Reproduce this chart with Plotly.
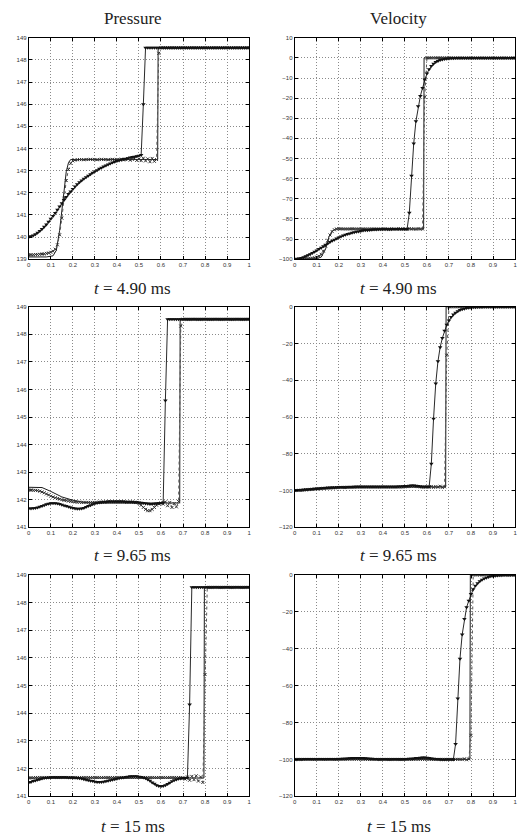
import plotly.graph_objects as go

# ---------------- grid positions (x in [0,1], step 0.01) ----------------
X = [round(i * 0.01, 2) for i in range(101)]

# ---------------- Pressure, t = 4.90 ms ----------------
P1_TRI = ([140.00, 140.03, 140.07, 140.12, 140.19, 140.27, 140.36, 140.46, 140.57, 140.69,
           140.82, 140.95, 141.09, 141.23, 141.38, 141.53, 141.67, 141.81, 141.94, 142.06,
           142.17, 142.28, 142.38, 142.47, 142.55, 142.63, 142.70, 142.77, 142.84, 142.90,
           142.96, 143.02, 143.08, 143.13, 143.18, 143.23, 143.28, 143.32, 143.36, 143.40,
           143.43, 143.46, 143.49, 143.52, 143.54, 143.56, 143.59, 143.61, 143.63, 143.65,
           143.67, 143.70, 146.00] + [148.55] * 48)
P1_CRS = ([139.20, 139.20, 139.20, 139.21, 139.21, 139.22, 139.23, 139.24, 139.26, 139.28,
           139.31, 139.36, 139.45, 139.65, 140.10, 140.85, 141.75, 142.55, 143.05, 143.33,
           143.44, 143.48, 143.49, 143.50, 143.50, 143.49, 143.50, 143.50, 143.51, 143.50,
           143.50, 143.49, 143.50, 143.51, 143.50, 143.50, 143.49, 143.50, 143.51, 143.50,
           143.49, 143.50, 143.52, 143.48, 143.50, 143.53, 143.47, 143.51, 143.54, 143.46,
           143.52, 143.45, 143.56, 143.44, 143.53, 143.40, 143.55, 143.42, 143.50,
           148.30] + [148.55] * 41)
P1_REF_X = [0, 0.08, 0.11, 0.125, 0.14, 0.15, 0.16, 0.17, 0.18, 0.19, 0.585, 0.587, 1]
P1_REF_Y = [139.10, 139.10, 139.15, 139.40, 140.30, 141.20, 142.20, 142.95, 143.35, 143.50,
            143.50, 148.55, 148.55]

# ---------------- Velocity, t = 4.90 ms ----------------
P2_TRI = ([-100.0, -99.9, -99.7, -99.4, -99.0, -98.5, -98.0, -97.5, -96.9, -96.3,
           -95.7, -95.0, -94.3, -93.6, -92.9, -92.2, -91.5, -90.9, -90.3, -89.7,
           -89.2, -88.7, -88.3, -87.9, -87.5, -87.2, -86.9, -86.6, -86.4, -86.2,
           -86.0, -85.8, -85.7, -85.6, -85.5, -85.4, -85.3, -85.3, -85.2, -85.2]
          + [-85.1] * 5 + [-85.0] * 5
          + [-85.0, -85.0, -77.0, -58.5, -42.5, -31.5, -24.0, -19.0, -15.0, -10.8,
             -7.8, -5.6, -4.0, -2.9, -2.1, -1.5, -1.1, -0.8, -0.55, -0.4,
             -0.28, -0.2, -0.14, -0.1, -0.07, -0.05, -0.03, -0.02, -0.01, 0.0]
          + [0.0] * 21)
P2_CRS = ([-100.0, -100.0, -99.9, -99.9, -99.8, -99.8, -99.7, -99.6, -99.5, -99.3,
           -99.0, -98.5, -97.6, -96.0, -93.5, -90.6, -88.0, -86.3, -85.4, -85.0,
           -84.9, -84.9, -85.0, -85.0, -85.0, -85.0, -84.9, -85.0, -85.0, -85.0]
          + [-85.0] * 10
          + [-85.0, -84.9, -85.0, -85.1, -84.9, -85.0, -85.1, -84.8, -85.1, -84.9,
             -85.0, -85.2, -84.8, -85.1, -84.9, -85.2, -84.8, -85.1, -85.0,
             -19.5] + [0.0] * 41)
P2_REF_X = [0, 0.1, 0.12, 0.14, 0.155, 0.17, 0.185, 0.585, 0.587, 1]
P2_REF_Y = [-100, -99.7, -99, -95, -89, -86, -85, -85, 0, 0]

# ---------------- Pressure, t = 9.65 ms ----------------
P3_TRI = ([141.68, 141.68, 141.69, 141.70, 141.72, 141.74, 141.77, 141.80, 141.83, 141.85,
           141.87, 141.87, 141.87, 141.86, 141.84, 141.82, 141.79, 141.77, 141.74, 141.72,
           141.70, 141.68, 141.67, 141.67, 141.68, 141.70, 141.73, 141.77, 141.80, 141.83,
           141.86, 141.88, 141.90, 141.91, 141.92, 141.92, 141.93, 141.93, 141.93, 141.93,
           141.93, 141.93, 141.93, 141.93, 141.92, 141.92, 141.92, 141.92, 141.91, 141.91,
           141.90, 141.89, 141.88, 141.86, 141.85, 141.84, 141.84, 141.85, 141.86, 141.87,
           141.88, 141.90, 145.60] + [148.55] * 38)
P3_CRS = ([142.35, 142.35, 142.34, 142.34, 142.33, 142.31, 142.28, 142.25, 142.21, 142.17,
           142.13, 142.10, 142.07, 142.04, 142.02, 142.00, 141.98, 141.97, 141.95, 141.94,
           141.93, 141.92, 141.91, 141.91, 141.90, 141.90, 141.90, 141.90, 141.90, 141.90,
           141.90, 141.90, 141.91, 141.91, 141.92, 141.92, 141.92, 141.92, 141.92, 141.92]
          + [141.92] * 8 + [141.91, 141.90]
          + [141.86, 141.80, 141.72, 141.65, 141.60, 141.60, 141.65, 141.72, 141.80, 141.85,
             141.88, 141.84, 141.92, 141.78, 141.90, 141.72, 141.86, 141.74, 141.93,
             148.30] + [148.55] * 31)
P3_REF_X = [0, 0.06, 0.1, 0.15, 0.2, 0.25, 0.3, 0.685, 0.687, 1]
P3_REF_Y = [142.45, 142.44, 142.30, 142.10, 141.98, 141.90, 141.88, 141.88, 148.55, 148.55]

# ---------------- Velocity, t = 9.65 ms ----------------
P4_TRI = ([-100.0, -99.9, -99.8, -99.7, -99.6, -99.5, -99.4, -99.3, -99.2, -99.1,
           -99.0, -98.9, -98.8, -98.7, -98.6, -98.5, -98.5, -98.4, -98.4, -98.3,
           -98.3, -98.2, -98.2, -98.2, -98.1, -98.1, -98.1, -98.0, -98.0, -98.0]
          + [-98.0] * 10 + [-98.0] * 5
          + [-97.9, -97.9, -97.8, -97.8, -97.7,
             -97.6, -97.5, -97.4, -97.3, -97.3, -97.4, -97.6, -97.8, -97.9, -98.0,
             -98.0, -98.0,
             -85.4, -61.0, -41.7, -29.7, -22.0, -17.0, -13.0, -9.8,
             -7.4, -5.6, -4.2, -3.2, -2.4, -1.8, -1.3, -1.0, -0.7, -0.5,
             -0.35, -0.25, -0.18, -0.12, -0.08, -0.05, -0.03, -0.02, -0.01, 0.0]
          + [0.0] * 11)
P4_CRS = ([-100.0, -100.0, -99.9, -99.8, -99.7, -99.6, -99.5, -99.4, -99.3, -99.2,
           -99.1, -99.0, -98.9, -98.8, -98.7, -98.6, -98.6, -98.5, -98.5, -98.4,
           -98.4, -98.3, -98.3, -98.3, -98.2, -98.2, -98.2, -98.2, -98.1, -98.1]
          + [-98.1] * 20
          + [-98.0, -97.9, -97.8, -97.7, -97.7, -97.8, -97.9, -98.0, -98.1, -98.1,
             -98.0, -98.2, -97.8, -98.3, -97.9, -98.2, -97.7, -98.3, -98.0,
             -26.4] + [0.0] * 31)
P4_REF_X = [0, 0.1, 0.2, 0.3, 0.685, 0.687, 1]
P4_REF_Y = [-100, -99, -98.3, -98.1, -98.1, 0, 0]

# ---------------- Pressure, t = 15 ms ----------------
P5_TRI = ([141.50, 141.52, 141.55, 141.57, 141.60, 141.62, 141.64, 141.66, 141.67, 141.68,
           141.68, 141.69, 141.69, 141.69, 141.69, 141.69, 141.69, 141.69, 141.68, 141.68,
           141.67, 141.67, 141.66, 141.65, 141.64, 141.62, 141.60, 141.58, 141.56, 141.55,
           141.53, 141.52, 141.52, 141.52, 141.53, 141.54, 141.56, 141.58, 141.60, 141.62,
           141.63, 141.65, 141.67, 141.68, 141.70, 141.71, 141.72, 141.72, 141.72, 141.72,
           141.71, 141.70, 141.68, 141.65, 141.61, 141.56, 141.50, 141.45, 141.40, 141.37,
           141.36, 141.37, 141.40, 141.44, 141.49, 141.54, 141.58, 141.61, 141.63, 141.64,
           141.65, 141.66, 141.67, 144.32] + [148.55] * 27)
P5_CRS = ([141.66, 141.67, 141.67, 141.68, 141.68, 141.68, 141.68, 141.68, 141.68, 141.68]
          + [141.68] * 60
          + [141.66, 141.62, 141.70, 141.58, 141.72, 141.60, 141.74, 141.55, 141.70, 141.50,
             145.40] + [148.55] * 20)
P5_REF_X = [0, 0.795, 0.797, 1]
P5_REF_Y = [141.66, 141.66, 148.55, 148.55]

# ---------------- Velocity, t = 15 ms ----------------
P6_TRI = ([-100.0, -100.0, -99.9, -99.9, -99.8, -99.8, -99.8, -99.8, -99.8, -99.8]
          + [-99.8] * 10
          + [-99.8, -99.8, -99.7, -99.6, -99.5, -99.4, -99.3, -99.3, -99.2, -99.2,
             -99.2, -99.3, -99.4, -99.5, -99.6, -99.7, -99.8, -99.8, -99.9, -99.9]
          + [-99.9] * 10
          + [-99.9, -99.8, -99.7, -99.6, -99.5, -99.3, -99.2, -99.1, -99.0, -99.0,
             -99.1, -99.3, -99.5, -99.7, -99.8, -99.9, -100.0, -100.0, -100.0, -100.0,
             -100.0, -100.0, -100.0,
             -91.6, -67.0, -45.4, -32.3, -23.9, -17.6, -14.0, -10.4,
             -7.8, -5.9, -4.5, -3.4, -2.6, -2.0, -1.5, -1.1, -0.8,
             -0.6, -0.45, -0.33, -0.24, -0.17, -0.12, -0.08, -0.05, -0.03, -0.01, 0.0])
P6_CRS = ([-100.0] * 20 + [-99.9] * 10 + [-100.0] * 46
          + [-100.0, -99.7, -100.2, -99.8,
             -87.0] + [0.0] * 20)
P6_REF_X = [0, 0.795, 0.797, 1]
P6_REF_Y = [-100, -100, 0, 0]

# ---------------- axes settings ----------------
Y_RANGES = [[139, 149], [-100, 10], [141, 149], [-120, 0], [141, 149], [-120, 0]]
Y_DTICK = [1, 10, 1, 20, 1, 20]
COL_TITLES = ["Pressure", "Velocity"]
ROW_LABELS = ["<i>t</i> = 4.90 ms", "<i>t</i> = 9.65 ms", "<i>t</i> = 15 ms"]

PANELS = [
    (P1_REF_X, P1_REF_Y, P1_TRI, P1_CRS),
    (P2_REF_X, P2_REF_Y, P2_TRI, P2_CRS),
    (P3_REF_X, P3_REF_Y, P3_TRI, P3_CRS),
    (P4_REF_X, P4_REF_Y, P4_TRI, P4_CRS),
    (P5_REF_X, P5_REF_Y, P5_TRI, P5_CRS),
    (P6_REF_X, P6_REF_Y, P6_TRI, P6_CRS),
]

W, H = 525, 840
COL_PX = [(27, 249), (295, 517)]
ROW_PX = [(35, 258), (306, 528), (576, 799)]

fig = go.Figure()
layout = dict(width=W, height=H, margin=dict(l=0, r=0, t=0, b=0),
              paper_bgcolor="white", plot_bgcolor="white", showlegend=False)

tick_font = dict(family="Liberation Sans, Arial, sans-serif", size=6, color="#333")

for i, (rx, ry, tri, crs) in enumerate(PANELS):
    r, c = divmod(i, 2)
    n = i + 1
    xa = "x" if n == 1 else f"x{n}"
    ya = "y" if n == 1 else f"y{n}"
    x0, x1 = COL_PX[c]
    t0, t1 = ROW_PX[r]
    common = dict(showline=True, linecolor="black", linewidth=1, mirror="ticks",
                  ticks="inside", ticklen=3, tickcolor="black", tickwidth=1,
                  showgrid=True, gridcolor="#8a8a8a", gridwidth=1, griddash="1px,2px",
                  zeroline=False, tickfont=tick_font)
    layout["xaxis" if n == 1 else f"xaxis{n}"] = dict(
        domain=[x0 / W, x1 / W], range=[0, 1], dtick=0.1, tick0=0,
        anchor=ya, **common)
    layout["yaxis" if n == 1 else f"yaxis{n}"] = dict(
        domain=[1 - t1 / H, 1 - t0 / H], range=Y_RANGES[i], dtick=Y_DTICK[i],
        tick0=Y_RANGES[i][0], anchor=xa, **common)

    fig.add_trace(go.Scatter(x=rx, y=ry, mode="lines", xaxis=xa, yaxis=ya,
                             line=dict(color="black", width=0.9)))
    fig.add_trace(go.Scatter(x=X, y=crs, mode="lines+markers", xaxis=xa, yaxis=ya,
                             line=dict(color="#555555", width=1, dash="dot"),
                             marker=dict(symbol="x-thin", size=3,
                                         line=dict(color="#333333", width=1))))
    fig.add_trace(go.Scatter(x=X, y=tri, mode="lines+markers", xaxis=xa, yaxis=ya,
                             line=dict(color="#111111", width=0.9),
                             marker=dict(symbol="triangle-down", size=4, color="#111111")))

annotations = []
serif = "Liberation Serif, DejaVu Serif, serif"
CX = [132, 400]
for c in range(2):
    annotations.append(dict(text=COL_TITLES[c], x=CX[c] / W, y=1 - 16 / H,
                            xref="paper", yref="paper", showarrow=False,
                            xanchor="center", yanchor="middle",
                            font=dict(family=serif, size=17, color="#222")))
ROW_LABEL_Y = [288, 556, 829]
for r in range(3):
    for c in range(2):
        annotations.append(dict(text=ROW_LABELS[r], x=CX[c] / W, y=1 - ROW_LABEL_Y[r] / H,
                                xref="paper", yref="paper", showarrow=False,
                                xanchor="center", yanchor="middle",
                                font=dict(family=serif, size=17, color="#222")))
layout["annotations"] = annotations
fig.update_layout(**layout)

fig.write_html("out.html")
